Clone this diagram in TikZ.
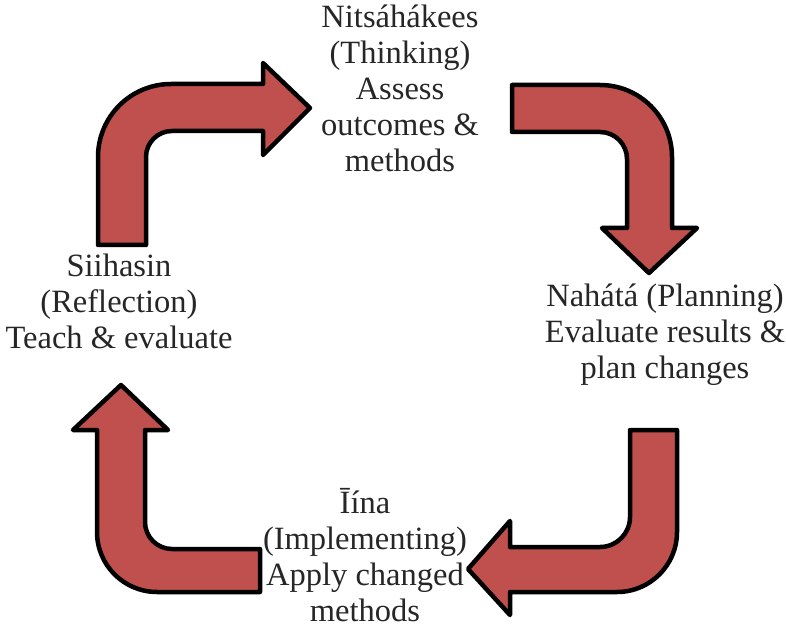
\documentclass[tikz,border=0pt]{standalone}
\usepackage{fontspec}
\setmainfont{Liberation Serif}
\usepackage{xcolor}
\definecolor{arrowred}{HTML}{C0504D}
\tikzset{
  blockarrow/.style={fill=arrowred, draw=black, line width=4.5pt, line join=round},
  stagetext/.style={align=center, anchor=base, inner sep=0pt,
    font=\fontsize{32.5}{36}\selectfont, text=black!85}
}

\begin{document}
\begin{tikzpicture}[x=1pt, y=1pt]
\useasboundingbox (0,0) rectangle (786,627);
% Bent arrows of the cycle
\draw[blockarrow] (98,382) -- (98,470) arc[start angle=180, end angle=90, radius=73pt]
  -- (263,543) -- (263,564) -- (310,519) -- (263,472) -- (263,496) -- (172,496)
  arc[start angle=90, end angle=180, radius=26pt] -- (146,382) -- cycle;          % Reflection -> Thinking
\draw[blockarrow] (512,542) -- (600,542) arc[start angle=90, end angle=0, radius=72pt]
  -- (672,399) -- (697,399) -- (649,354) -- (602,399) -- (627,399) -- (627,468)
  arc[start angle=0, end angle=90, radius=27pt] -- (512,495) -- cycle;           % Thinking -> Planning
\draw[blockarrow] (630,197) -- (677,197) -- (677,95) arc[start angle=0, end angle=-90, radius=60pt]
  -- (510,35) -- (510,12) -- (468,58) -- (510,106) -- (510,80) -- (600,80)
  arc[start angle=-90, end angle=0, radius=30pt] -- cycle;                       % Planning -> Implementing
\draw[blockarrow] (260,35) -- (157,35) arc[start angle=-90, end angle=-180, radius=60pt]
  -- (97,197) -- (73,197) -- (121,242) -- (168,197) -- (145,197) -- (145,105)
  arc[start angle=180, end angle=270, radius=27pt] -- (260,78) -- cycle;         % Implementing -> Reflection
% Stage texts (anchored at the baseline of their last line)
\node[stagetext] (thinking) at (400,455) {Nitsáhákees\\(Thinking)\\Assess\\outcomes \&\\methods};
\node[stagetext] (planning) at (665,249) {Nahátá (Planning)\\Evaluate results \&\\plan changes};
\node[stagetext] (implementing) at (365,6) {Īína\\(Implementing)\\Apply changed\\methods};
\node[stagetext] (reflection) at (119,279) {Siihasin\\(Reflection)\\Teach \& evaluate};
\end{tikzpicture}
\end{document}
